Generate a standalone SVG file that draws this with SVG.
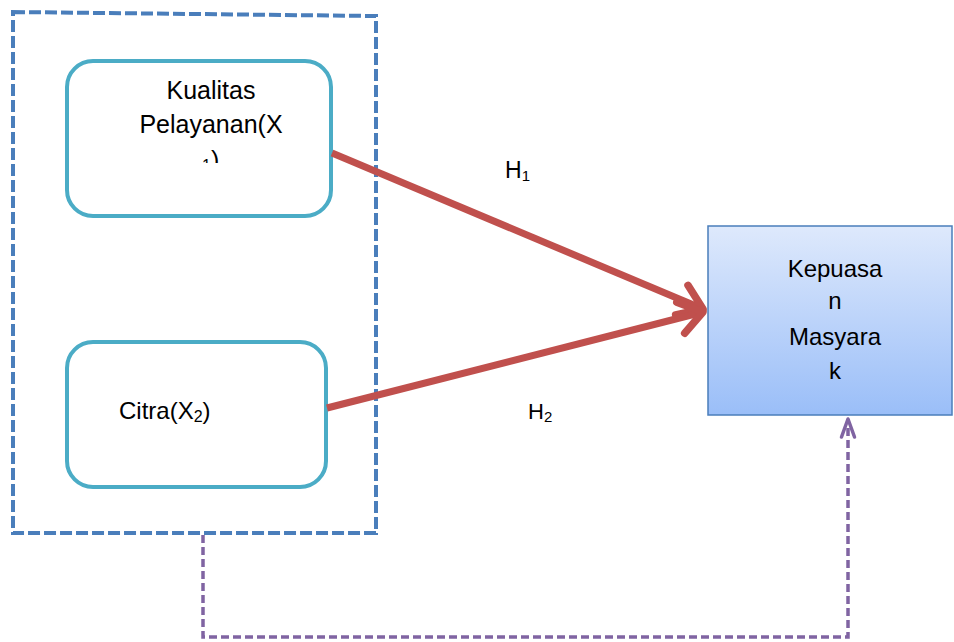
<svg xmlns="http://www.w3.org/2000/svg" width="954" height="642" viewBox="0 0 954 642">
  <style>
    .lbl { font-family: "Liberation Sans", Arial, sans-serif; fill: #000000; }
    .node { fill: #ffffff; stroke: #4bacc6; stroke-width: 4; }
    .red { fill: none; stroke: #c0504d; stroke-width: 7; }
    .purple { fill: none; stroke: #8064a2; stroke-width: 3.5; }
  </style>
  <defs>
    <linearGradient id="blueGrad" x1="0" y1="0" x2="0" y2="1">
      <stop offset="0" stop-color="#dee9fc"/>
      <stop offset="1" stop-color="#9abef8"/>
    </linearGradient>
    <marker id="redHead" markerUnits="userSpaceOnUse" viewBox="-40 -30 50 60" markerWidth="50" markerHeight="60" refX="0" refY="0" orient="auto" overflow="visible">
      <path d="M-23,-16 L0,0 L-23,16" fill="none" stroke="#c0504d" stroke-width="7.5" stroke-linecap="round" stroke-linejoin="round"/>
    </marker>
    <marker id="purpleHead" markerUnits="userSpaceOnUse" viewBox="-30 -15 40 30" markerWidth="40" markerHeight="30" refX="0" refY="0" orient="auto" overflow="visible">
      <path d="M-18,-6.5 L0,0 L-18,6.5" fill="none" stroke="#8064a2" stroke-width="3.5" stroke-linecap="round" stroke-linejoin="round"/>
    </marker>
    <clipPath id="clipLine3">
      <rect x="60" y="140" width="280" height="23"/>
    </clipPath>
  </defs>

  <rect x="0" y="0" width="954" height="642" fill="#ffffff"/>

  <g id="group-box">
    <path d="M13,12 L376,16 L376,533 L13,533 Z" fill="none" stroke="#4a7ebb" stroke-width="4" stroke-dasharray="12,4"/>
  </g>

  <g id="node-x1">
    <rect class="node" x="67" y="61" width="264" height="155" rx="26" ry="26"/>
    <text class="lbl" x="211" y="99" font-size="25" text-anchor="middle">Kualitas</text>
    <text class="lbl" x="211" y="133" font-size="25" text-anchor="middle">Pelayanan(X</text>
    <text class="lbl" x="202" y="169" font-size="25" clip-path="url(#clipLine3)"><tspan font-size="16" dy="2">1</tspan><tspan dy="-2">)</tspan></text>
  </g>

  <g id="node-x2">
    <rect class="node" x="67" y="342" width="259" height="145" rx="26" ry="26"/>
    <text class="lbl" x="119" y="419" font-size="24">Citra(X<tspan font-size="16" dy="3">2</tspan><tspan dy="-3">)</tspan></text>
  </g>

  <g id="node-y">
    <rect x="708" y="226" width="244" height="189" fill="url(#blueGrad)" stroke="#4a7ebb" stroke-width="1.5"/>
    <text class="lbl" x="835" y="277" font-size="24" text-anchor="middle">Kepuasa</text>
    <text class="lbl" x="835" y="309" font-size="24" text-anchor="middle">n</text>
    <text class="lbl" x="835" y="345" font-size="24" text-anchor="middle">Masyara</text>
    <text class="lbl" x="835" y="379" font-size="24" text-anchor="middle">k</text>
  </g>

  <g id="connectors">
    <line class="red" x1="332" y1="153" x2="703" y2="309" marker-end="url(#redHead)"/>
    <line class="red" x1="327" y1="408" x2="703" y2="312" marker-end="url(#redHead)"/>
    <path class="purple" d="M203,535 L203,637 L848,637 L848,419" stroke-dasharray="8,4" marker-end="url(#purpleHead)"/>
  </g>

  <g id="labels">
    <text class="lbl" x="505" y="178" font-size="23">H<tspan font-size="15" dy="3">1</tspan></text>
    <text class="lbl" x="528" y="419" font-size="22">H<tspan font-size="15" dy="3">2</tspan></text>
  </g>
</svg>
